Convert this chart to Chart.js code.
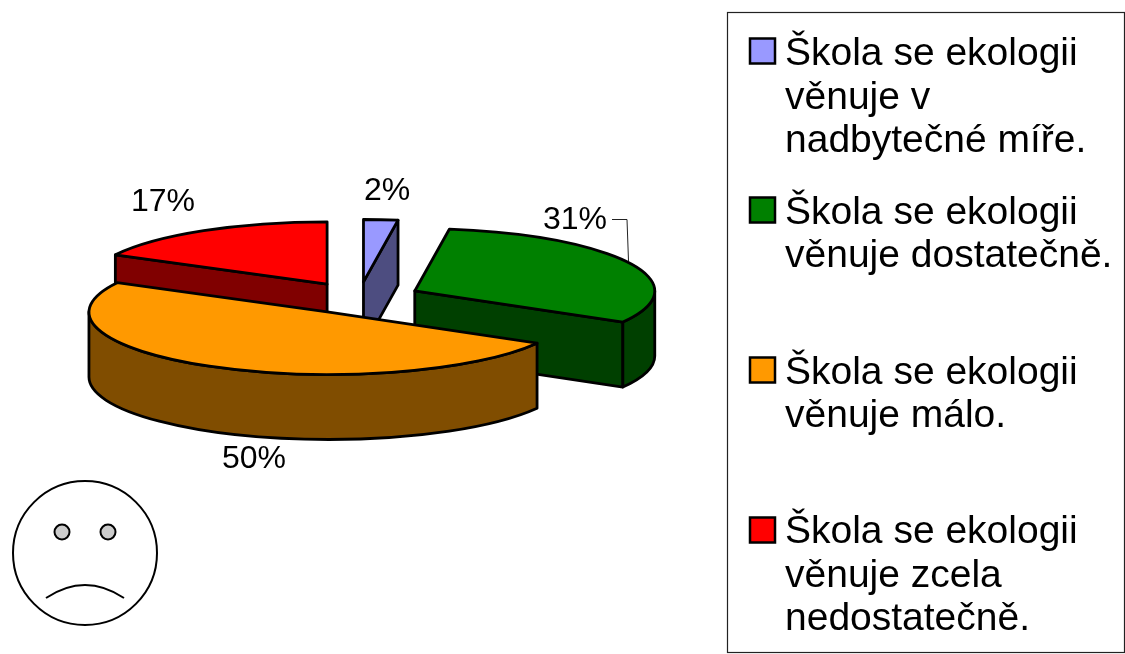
<!DOCTYPE html>
<html>
<head>
<meta charset="utf-8">
<title>Škola a ekologie</title>
<script src="https://cdn.jsdelivr.net/npm/chart.js@4/dist/chart.umd.min.js"></script>
<style>
  html, body { margin: 0; padding: 0; background: #fff; overflow: hidden; }
  canvas { display: block; }
</style>
</head>
<body>
<canvas id="miGrafica" width="1125" height="654"></canvas>
<script>
const categories = [
    ['Škola se ekologii', 'věnuje v', 'nadbytečné míře.'],
    ['Škola se ekologii', 'věnuje dostatečně.'],
    ['Škola se ekologii', 'věnuje málo.'],
    ['Škola se ekologii', 'věnuje zcela', 'nedostatečně.']
];
const shares = [2.3, 31.0, 49.5, 17.2];
const topColors = ['#9999ff', '#008000', '#ff9900', '#ff0000'];
const wallColors = ['#4d4d80', '#004000', '#804d00', '#800000'];

// 3D look
const squash = 0.26;
const depth = 65;
const explode = 62;
const outline = 2.8;
const drawOrder = [3, 0, 1, 2];

const valuePositions = [[364, 200], [543, 229], [222, 468], [131, 211]];
const legendSwatchY = [38.5, 197.5, 357.5, 517.5];
const legendFirstBaseline = [65, 223.5, 383.5, 543];
const legendLineHeight = 43.6;

function sliceGeometry(arc) {
    const mid = (arc.startAngle + arc.endAngle) / 2;
    return {
        cx: arc.x + Math.cos(mid) * explode,
        cy: arc.y + Math.sin(mid) * explode * squash,
        r: arc.outerRadius,
        start: arc.startAngle,
        end: arc.endAngle
    };
}

function strokeFill(ctx, color) {
    ctx.fillStyle = color;
    ctx.fill();
    ctx.stroke();
}

function radialWall(ctx, g, angle, color) {
    const ex = g.cx + Math.cos(angle) * g.r;
    const ey = g.cy + Math.sin(angle) * g.r * squash;
    ctx.beginPath();
    ctx.moveTo(g.cx, g.cy);
    ctx.lineTo(ex, ey);
    ctx.lineTo(ex, ey + depth);
    ctx.lineTo(g.cx, g.cy + depth);
    ctx.closePath();
    strokeFill(ctx, color);
}

function drawWalls(ctx, g, color) {
    if (Math.cos(g.start) < -0.01) radialWall(ctx, g, g.start, color);
    if (Math.cos(g.end) > 0.01) radialWall(ctx, g, g.end, color);
    // front rim, only the part with sin > 0 faces us
    const a = Math.max(g.start, 0);
    const b = Math.min(g.end, Math.PI);
    if (b > a) {
        ctx.beginPath();
        ctx.ellipse(g.cx, g.cy, g.r, g.r * squash, 0, a, b);
        ctx.ellipse(g.cx, g.cy + depth, g.r, g.r * squash, 0, b, a, true);
        ctx.closePath();
        strokeFill(ctx, color);
    }
}

function drawTop(ctx, arc, g) {
    ctx.save();
    ctx.translate(g.cx, g.cy);
    ctx.scale(1, squash);
    ctx.translate(-arc.x, -arc.y);
    arc.draw(ctx);
    ctx.restore();
    ctx.beginPath();
    ctx.moveTo(g.cx, g.cy);
    ctx.ellipse(g.cx, g.cy, g.r, g.r * squash, 0, g.start, g.end);
    ctx.closePath();
    ctx.stroke();
}

const pie3d = {
    id: 'pie3d',
    beforeDatasetDraw(chart, args) {
        const ctx = chart.ctx;
        const arcs = args.meta.data;
        ctx.save();
        ctx.strokeStyle = '#000';
        ctx.lineWidth = outline;
        ctx.lineJoin = 'round';
        drawOrder.forEach(i => drawWalls(ctx, sliceGeometry(arcs[i]), wallColors[i]));
        drawOrder.forEach(i => drawTop(ctx, arcs[i], sliceGeometry(arcs[i])));
        ctx.restore();
        return false;
    },
    afterDraw(chart) {
        const ctx = chart.ctx;
        ctx.save();
        ctx.fillStyle = '#000';
        ctx.textBaseline = 'alphabetic';

        // percent labels
        ctx.font = '32px "Liberation Sans"';
        shares.forEach((v, i) => {
            ctx.fillText(Math.round(v) + '%', valuePositions[i][0], valuePositions[i][1]);
        });
        ctx.lineWidth = 1;
        ctx.strokeStyle = '#222';
        ctx.beginPath();
        ctx.moveTo(612, 219.5);
        ctx.lineTo(627, 219.5);
        ctx.lineTo(628.5, 261);
        ctx.stroke();

        // legend box
        ctx.lineWidth = 1.2;
        ctx.strokeRect(727.5, 12.5, 397, 640);
        ctx.strokeStyle = '#000';
        ctx.font = '39px "Liberation Sans"';
        categories.forEach((lines, i) => {
            ctx.fillStyle = topColors[i];
            ctx.lineWidth = 2.5;
            ctx.fillRect(750, legendSwatchY[i], 25, 25);
            ctx.strokeRect(750, legendSwatchY[i], 25, 25);
            ctx.fillStyle = '#000';
            lines.forEach((line, j) => {
                ctx.fillText(line, 785, legendFirstBaseline[i] + j * legendLineHeight);
            });
        });

        // sad face
        ctx.lineWidth = 2;
        ctx.beginPath();
        ctx.arc(85, 553, 72, 0, Math.PI * 2);
        ctx.stroke();
        [62, 108].forEach(x => {
            ctx.beginPath();
            ctx.arc(x, 532, 7.5, 0, Math.PI * 2);
            ctx.fillStyle = '#cccccc';
            ctx.fill();
            ctx.stroke();
        });
        ctx.beginPath();
        ctx.moveTo(46, 598);
        ctx.quadraticCurveTo(85, 572, 124, 598);
        ctx.stroke();
        ctx.restore();
    }
};

new Chart(document.getElementById('miGrafica').getContext('2d'), {
    type: 'pie',
    data: {
        labels: categories.map(c => c.join(' ')),
        datasets: [{
            data: shares,
            backgroundColor: topColors,
            borderWidth: 0
        }]
    },
    options: {
        responsive: false,
        animation: false,
        layout: { padding: { left: 119, right: 526, top: 58, bottom: 116 } },
        plugins: {
            legend: { display: false },
            tooltip: { enabled: false }
        }
    },
    plugins: [pie3d]
});
</script>
</body>
</html>
